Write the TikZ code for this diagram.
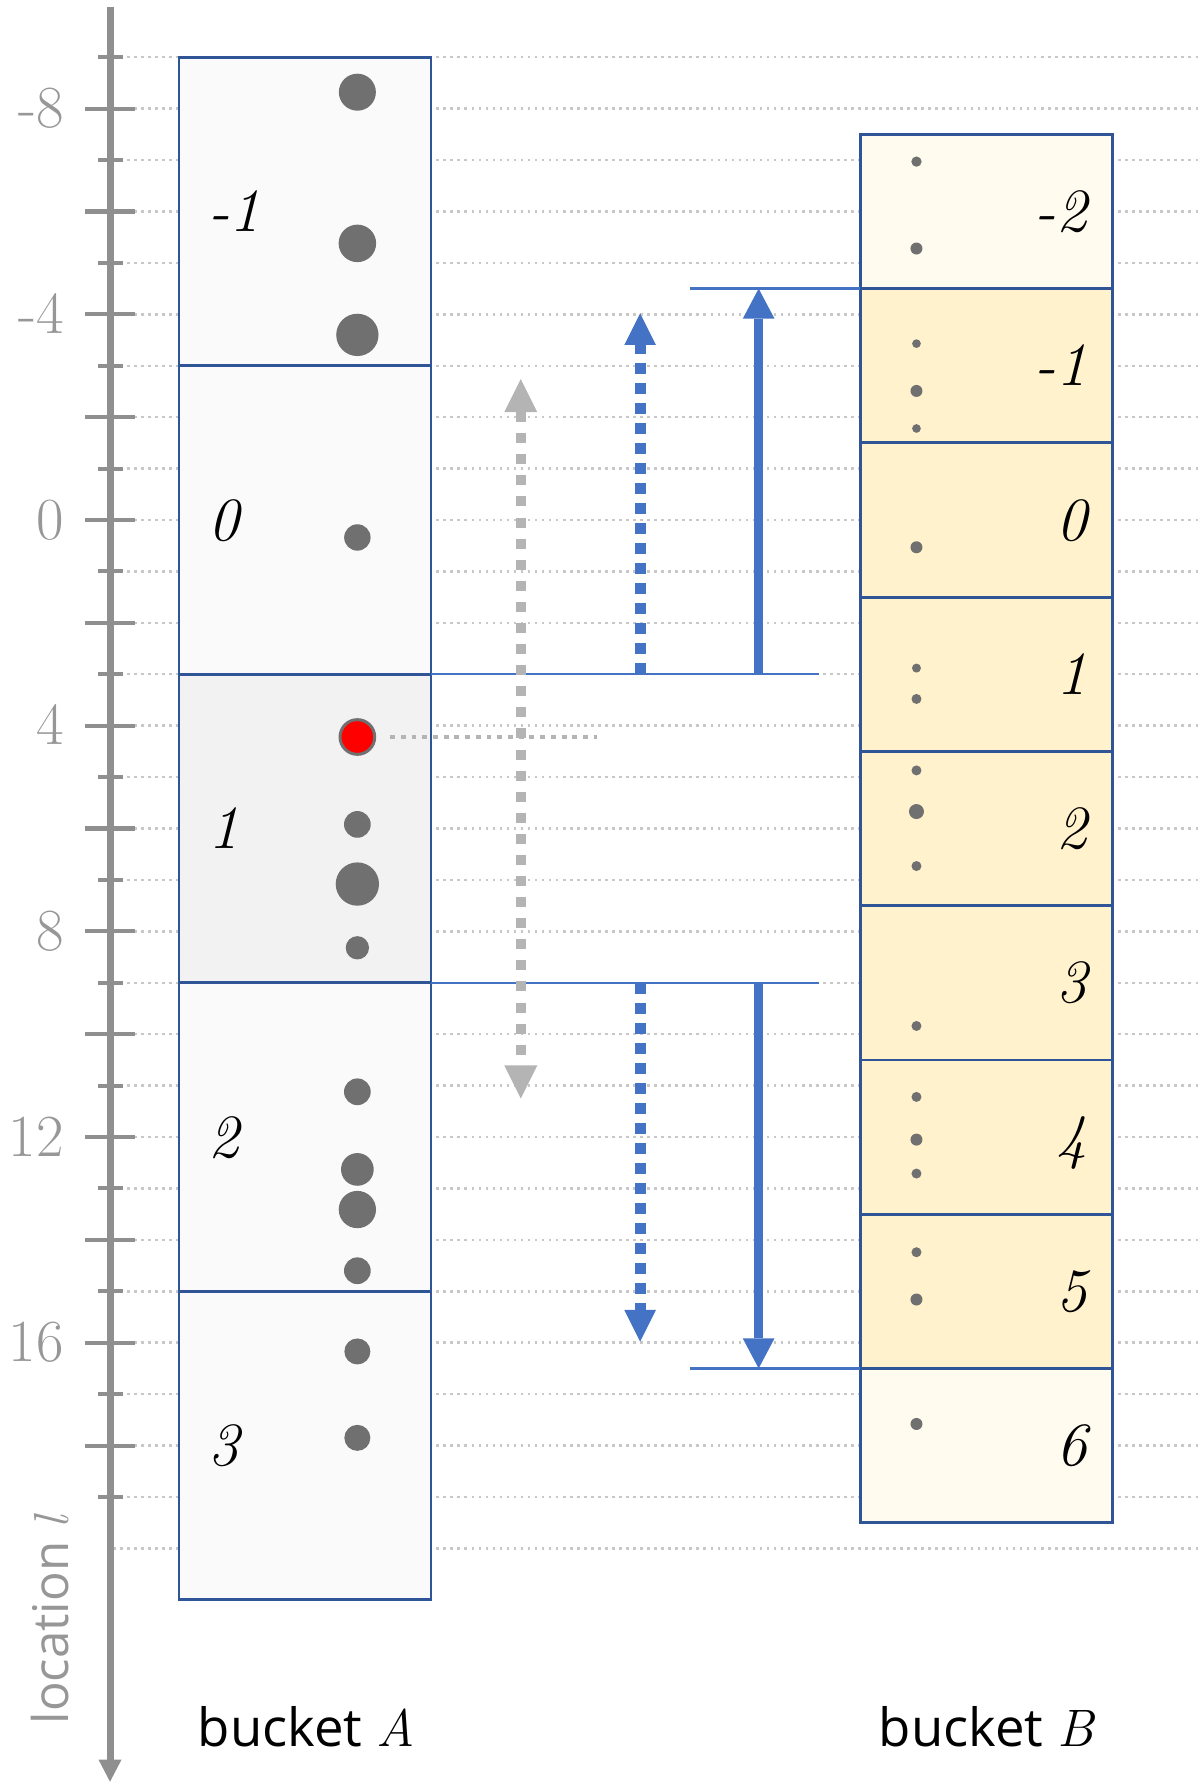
\documentclass[tikz,border=0pt]{standalone}
\usepackage{fontspec}
\newfontfamily\osans{Open Sans}
\usetikzlibrary{arrows.meta}
\definecolor{boxblue}{HTML}{2F5597}
\definecolor{lineblue}{HTML}{4472C4}
\definecolor{axgray}{HTML}{8F8F8F}
\definecolor{lblgray}{HTML}{979797}
\definecolor{gridgray}{HTML}{C8C8C8}
\definecolor{dotgray}{HTML}{707070}
\definecolor{arrgray}{HTML}{B4B4B4}
\definecolor{cellA}{HTML}{FAFAFA}
\definecolor{cellAhi}{HTML}{F2F2F2}
\definecolor{cellB}{HTML}{FFF2CC}
\definecolor{cellBlt}{HTML}{FFFBEE}
\begin{document}
\begin{tikzpicture}[x=0.02cm,y=-1.0284cm,
  gridline/.style={gridgray,line width=1.4pt,dash pattern=on 1.5pt off 2.5pt},
  axisline/.style={axgray,line width=4pt,-{Triangle[width=0.46cm,length=0.44cm,line width=0pt]}},
  tickline/.style={axgray,line width=2.3pt},
  ticklbl/.style={lblgray,font=\fontsize{34}{40}\selectfont,inner sep=0pt,anchor=base east},
  axlbl/.style={lblgray,font=\osans\fontsize{28}{34}\selectfont,inner sep=0pt},
  cellbox/.style={draw=boxblue,line width=1.6pt,minimum width=5.04cm,inner sep=0pt},
  bnum/.style={font=\fontsize{35}{40}\selectfont\itshape,inner sep=0pt},
  thinblue/.style={lineblue,line width=1.4pt},
  solidarr/.style={lineblue,line width=5.3pt,-{Triangle[width=0.634cm,length=0.6cm,line width=0pt]}},
  dotarr/.style={lineblue,line width=6.3pt,dash pattern=on 6.3pt off 5.1pt,-{Triangle[width=0.634cm,length=0.634cm,line width=0pt]}},
  grayarr/.style={arrgray,line width=5.9pt,dash pattern=on 5.7pt off 6.3pt,{Triangle[width=0.66cm,length=0.66cm,line width=0pt]}-{Triangle[width=0.66cm,length=0.66cm,line width=0pt]}},
  graydots/.style={arrgray,line width=2.8pt,dash pattern=on 2.8pt off 3.3pt},
  dotA/.style={circle,fill=dotgray,inner sep=0pt},
  bucklbl/.style={font=\osans\fontsize{30}{36}\selectfont,inner sep=0pt,anchor=base}]
\useasboundingbox (0,-10.113) rectangle (1200,24.699);

% grid lines
\foreach \k in {-9,...,20} \draw[gridline] (113,\k) -- (1200,\k);

% axis
\draw[axisline] (110,-9.977) -- (110,24.537);
\foreach \k in {-8,-6,...,18} \draw[tickline] (85,\k) -- (135,\k);
\foreach \k in {-9,-7,...,19} \draw[tickline] (98,\k) -- (123,\k);
\foreach \k in {-8,-4,...,16} \node[ticklbl] (tl\k) at (64,\k+0.37) {\k};
\node[axlbl,rotate=90,anchor=base west] (loc) at (68,23.43) {location {\rmfamily\itshape l}};

% bucket A
\node[cellbox,fill=cellA,minimum height=6.1704cm] (Am1) at (305,-6) {};
\node[cellbox,fill=cellA,minimum height=6.1704cm] (A0) at (305,0) {};
\node[cellbox,fill=cellAhi,minimum height=6.1704cm] (A1) at (305,6) {};
\node[cellbox,fill=cellA,minimum height=6.1704cm] (A2) at (305,12) {};
\node[cellbox,fill=cellA,minimum height=6.1704cm] (A3) at (305,18) {};
\foreach \i/\t in {-1/-1,0/0,1/1,2/2,3/3}
  \node[bnum,anchor=base west] (Al\i) at (208,6*\i+0.389) {\t};

% bucket B
\foreach \i in {-2,...,6}{
  \ifnum\i=-2 \def\cf{cellBlt}\else\ifnum\i=6 \def\cf{cellBlt}\else\def\cf{cellB}\fi\fi
  \node[cellbox,fill=\cf,minimum height=3.0852cm] (B\i) at (986,3*\i) {};
  \node[bnum,anchor=base east] (Bl\i) at (1087,3*\i+0.389) {\i};
}

% blue boundary lines
\coordinate (u1) at (431,3);   \coordinate (u2) at (819,3);
\coordinate (d1) at (431,9);   \coordinate (d2) at (819,9);
\coordinate (tA) at (690,-4.5); \coordinate (tB) at (860,-4.5);
\coordinate (bA) at (690,16.5); \coordinate (bB) at (860,16.5);
\draw[thinblue] (u1) -- (u2);
\draw[thinblue] (d1) -- (d2);
\draw[thinblue] (tA) -- (tB);
\draw[thinblue] (bA) -- (bB);

% gray arrows
\coordinate (g1) at (520.7,-2.74); \coordinate (g2) at (520.7,11.25);
\draw[grayarr] (g1) -- (g2);
\coordinate (h1) at (390,4.22); \coordinate (h2) at (597,4.22);
\draw[graydots] (h1) -- (h2);

% blue arrows
\coordinate (s1) at (758.5,3);  \coordinate (s2) at (758.5,-4.5);
\coordinate (s3) at (758.5,9);  \coordinate (s4) at (758.5,16.5);
\draw[solidarr] (s1) -- (s2);
\draw[solidarr] (s3) -- (s4);
\coordinate (q1) at (640,3);  \coordinate (q2) at (640,-4.02);
\coordinate (q3) at (640,9);  \coordinate (q4) at (640,15.98);
\draw[dotarr] (q1) -- (q2);
\draw[dotarr] (q3) -- (q4);

% dots in bucket A
\foreach \yy/\dd [count=\i] in {-8.32/37,-5.38/37.5,-3.60/42.3,0.34/26.4,5.92/26.7,7.08/43.3,8.32/23.3,11.12/26.7,12.63/32.7,13.41/37.3,14.60/26.7,16.17/26,17.85/26}
  \node[dotA,minimum size=\dd*0.02cm] (dA\i) at (357.3,\yy) {};
\node[circle,fill=red,draw=dotgray,line width=1.7pt,inner sep=0pt,minimum size=0.694cm] (red) at (357.3,4.22) {};

% dots in bucket B
\foreach \yy/\dd [count=\i] in {-6.97/10.3,-5.28/12,-3.43/8.7,-2.51/12,-1.78/8.7,0.53/12,2.88/9,3.48/10,4.87/10,5.67/15,6.73/10,9.84/10,11.22/10,12.05/12,12.71/10,14.24/10,15.16/12,17.58/12}
  \node[dotA,minimum size=\dd*0.02cm] (dB\i) at (916.3,\yy) {};

% bucket labels
\node[bucklbl] (labA) at (306,23.86) {bucket {\rmfamily\itshape A}};
\node[bucklbl] (labB) at (986,23.86) {bucket {\rmfamily\itshape B}};
\end{tikzpicture}
\end{document}
